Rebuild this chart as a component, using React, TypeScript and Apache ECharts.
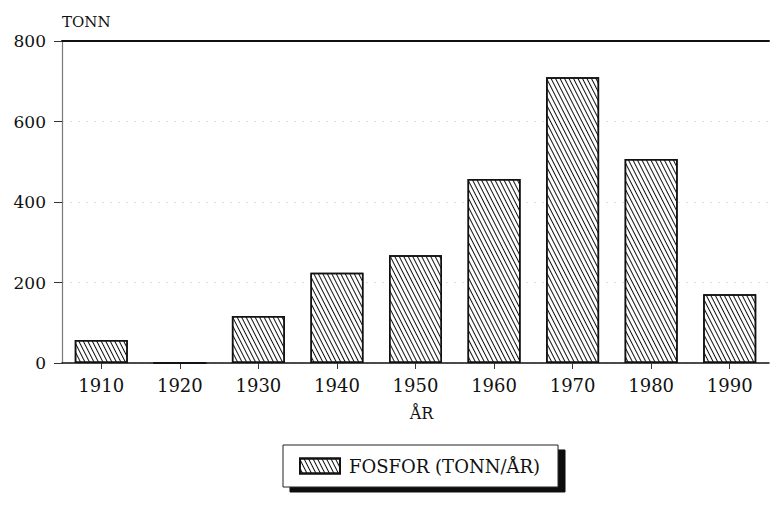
import React, { useEffect, useRef } from "react";
import * as echarts from "echarts";

const years = ["1910", "1920", "1930", "1940", "1950", "1960", "1970", "1980", "1990"];
const fosfor = [57, 0, 117, 224, 268, 457, 710, 507, 171];
const yTicks = { min: 0, max: 800, interval: 200 };
const seriesName = "FOSFOR (TONN/ÅR)";
const yName = "TONN";
const xName = "ÅR";

const FONT = "DejaVu Serif";

export default function App() {
  const ref = useRef<HTMLDivElement>(null);
  useEffect(() => {
    if (!ref.current) return;
    const chart = echarts.init(ref.current, null, { renderer: "svg" });
    const decal = {
      symbol: "rect",
      symbolSize: 1,
      dashArrayX: [1, 0],
      dashArrayY: [1, 2.1],
      rotation: 1.1,
      color: "#111",
      backgroundColor: "#fff",
    };
    chart.setOption({
      animation: false,
      backgroundColor: "#fff",
      textStyle: { fontFamily: FONT, color: "#111" },
      grid: { left: 62, right: 4, top: 41, bottom: 144 },
      legend: {
        show: true,
        left: 283,
        top: 445,
        orient: "horizontal",
        padding: [12, 18, 12, 16],
        backgroundColor: "#fff",
        borderColor: "#222",
        borderWidth: 1,
        borderRadius: 0,
        shadowColor: "#111",
        shadowBlur: 0,
        shadowOffsetX: 7,
        shadowOffsetY: 5,
        itemWidth: 40,
        itemHeight: 15,
        itemGap: 12,
        icon: "rect",
        textStyle: { fontFamily: FONT, fontSize: 18, color: "#111", padding: [0, 0, 0, 4] },
        data: [seriesName],
      },
      xAxis: [
        {
          type: "category",
          data: years,
          name: xName,
          nameLocation: "middle",
          nameGap: 42,
          nameTextStyle: { fontFamily: FONT, fontSize: 16, color: "#111", padding: [0, 0, 0, 12] },
          axisLine: { show: true, lineStyle: { color: "#111", width: 1.5 } },
          axisTick: { show: true, alignWithLabel: true, length: 6, lineStyle: { color: "#333" } },
          axisLabel: { fontFamily: FONT, fontSize: 18, color: "#111", margin: 13 },
        },
        {
          type: "category",
          data: years,
          position: "top",
          axisLine: { show: true, lineStyle: { color: "#111", width: 2 } },
          axisTick: { show: false },
          axisLabel: { show: false },
        },
      ],
      yAxis: {
        type: "value",
        min: yTicks.min,
        max: yTicks.max,
        interval: yTicks.interval,
        name: yName,
        nameLocation: "end",
        nameGap: 12,
        nameTextStyle: { fontFamily: FONT, fontSize: 15, color: "#111", align: "left" },
        axisLine: { show: true, lineStyle: { color: "#777", width: 1.2 } },
        axisTick: { show: true, length: 8, lineStyle: { color: "#333" } },
        axisLabel: { fontFamily: FONT, fontSize: 17, color: "#111", margin: 16 },
        splitLine: { show: true, lineStyle: { color: "#ddd", type: [2, 6], width: 1 } },
      },
      series: [
        {
          name: seriesName,
          type: "bar",
          data: fosfor,
          barWidth: 53,
          itemStyle: {
            color: "#fff",
            borderColor: "#111",
            borderWidth: 1.5,
            decal,
          },
        },
      ],
    });
    return () => chart.dispose();
  }, []);
  return <div ref={ref} style={{ width: 773, height: 507, position: "absolute", left: 0, top: 0 }} />;
}
